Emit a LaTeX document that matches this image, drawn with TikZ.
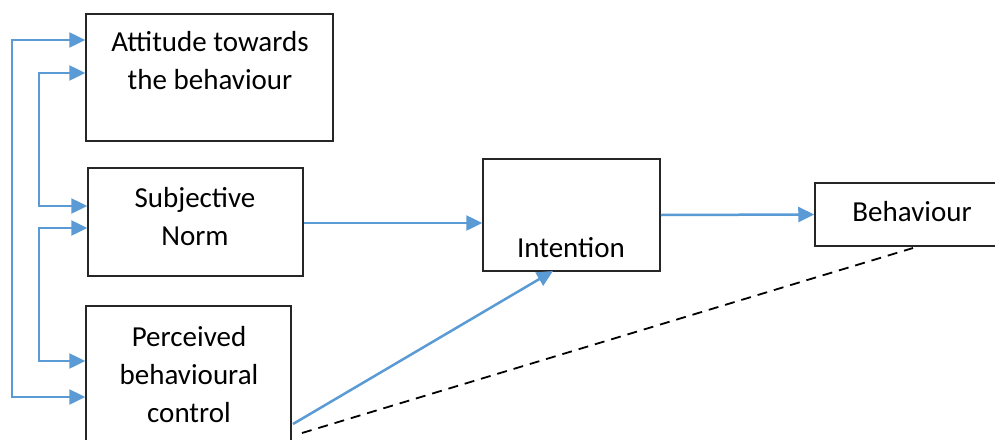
\documentclass[tikz,border=0pt]{standalone}
\usepackage{fontspec}
\setmainfont{Carlito}
\usetikzlibrary{arrows.meta,calc}
\definecolor{tpbblue}{HTML}{5B9BD5}
\definecolor{boxline}{HTML}{262626}
\tikzset{
  box/.style={draw=boxline, line width=1.5pt, inner sep=0pt, rectangle},
  lbl/.style={inner sep=0pt, align=center, font=\fontsize{29}{38}\selectfont, anchor=base},
  arr/.style={draw=tpbblue, line width=2.5pt, -{Triangle[length=16pt,width=15pt]}},
  darr/.style={draw=tpbblue, line width=2.5pt, {Triangle[length=16pt,width=15pt]}-{Triangle[length=16pt,width=15pt]}},
  dashline/.style={draw=black, line width=1.8pt, dash pattern=on 10pt off 7pt}
}
\begin{document}
\begin{tikzpicture}[x=1pt,y=-1pt]
\clip (0,0) rectangle (995,439);
\fill[white] (0,0) rectangle (995,439);
% boxes
\node[box, minimum width=247pt, minimum height=127pt] (att) at (209.5,77.5) {};
\node[box, minimum width=215pt, minimum height=108pt] (sn) at (195.5,222) {};
\node[box, minimum width=205pt, minimum height=144pt] (pbc) at (188.5,378) {};
\node[box, minimum width=177pt, minimum height=112pt] (int) at (571.5,215) {};
\node[box, minimum width=190pt, minimum height=63pt] (beh) at (910,214.5) {};
% labels (anchor=base is the last line's baseline)
\node[lbl] (attT) at (210,89) {Attitude towards\\the behaviour};
\node[lbl] (snT) at (195,245) {Subjective\\Norm};
\node[lbl] (pbcT) at (189,422) {Perceived\\behavioural\\control};
\node[lbl] (intT) at (571,257) {Intention};
\node[lbl] (behT) at (912,221) {Behaviour};
% coordinates
\coordinate (oL) at (12,0);
\coordinate (iL) at (39,0);
% left brackets
\draw[darr] (att.west |- 0,40) -- (oL |- 0,40) -- (oL |- 0,397) -- (pbc.west |- 0,397);
\draw[darr] (att.west |- 0,73) -- (iL |- 0,73) -- (iL |- 0,206) -- (sn.west |- 0,206);
\draw[darr] (sn.west |- 0,228) -- (iL |- 0,228) -- (iL |- 0,361) -- (pbc.west |- 0,361);
% main arrows
\draw[arr] (sn.east |- 0,223) -- (int.west |- 0,223);
\draw[arr] (int.east) -- (beh.west);
\coordinate (pbcOut) at (293,424);
\coordinate (intIn) at (553,271);
\draw[arr] (pbcOut) -- (intIn);
\coordinate (pbcDash) at (302,433);
\coordinate (behDash) at (913,248);
\draw[dashline] (pbcDash) -- (behDash);
\end{tikzpicture}
\end{document}
